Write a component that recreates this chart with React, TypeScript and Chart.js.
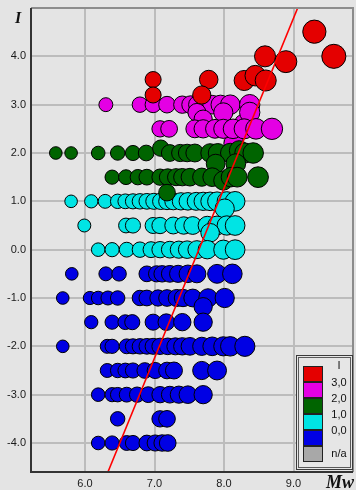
import { useEffect, useRef } from "react";
import Chart from "chart.js/auto";

// ---- axis ticks ----
const xTicks = [6, 7, 8, 9];
const yTicks = [-4, -3, -2, -1, 0, 1, 2, 3, 4];

// ---- red: I > 3 ----
const redMw = [6.98, 6.98, 7.78, 7.68, 8.29, 8.45, 8.6, 8.59, 8.89, 9.3, 9.58];
const redI = [3.52, 3.2, 3.52, 3.2, 3.5, 3.6, 3.5, 4.0, 3.89, 4.51, 4.0];

// ---- magenta: 2 < I <= 3 ----
const magentaMw = [
  8.14,
  6.3, 6.79, 6.98, 7.18, 7.4, 7.52, 7.62, 7.83, 7.95, 8.09, 8.37,
  7.61, 7.7, 7.99, 8.29, 8.37,
  7.08, 7.21, 7.58, 7.7, 7.87, 7.99, 8.13, 8.29, 8.46, 8.69,
];
const magentaI = [
  2.2,
  3.0, 3.0, 3.0, 3.0, 3.0, 3.0, 3.0, 3.0, 3.0, 3.0, 3.0,
  2.84, 2.7, 2.84, 2.6, 2.84,
  2.5, 2.5, 2.5, 2.5, 2.5, 2.5, 2.5, 2.5, 2.5, 2.5,
];

// ---- green: 1 < I <= 2 ----
const greenMw = [
  5.58, 5.8, 6.19, 6.47, 6.69, 6.88, 7.09, 7.22, 7.37, 7.47, 7.58, 7.8, 7.91, 8.09, 8.22, 8.3, 8.42,
  7.88, 8.17,
  6.39, 6.59, 6.76, 6.89, 7.08, 7.19, 7.31, 7.4, 7.51, 7.68, 7.83, 7.99, 8.1, 8.19, 8.49,
  7.18,
];
const greenI = [
  2.0, 2.0, 2.0, 2.0, 2.0, 2.0, 2.1, 2.0, 2.0, 2.0, 2.0, 2.0, 2.0, 2.0, 2.05, 2.0, 2.0,
  1.78, 1.78,
  1.5, 1.5, 1.5, 1.5, 1.5, 1.5, 1.5, 1.5, 1.5, 1.5, 1.5, 1.43, 1.5, 1.5, 1.5,
  1.18,
];

// ---- cyan: 0 <= I <= 1 ----
const cyanMw = [
  5.8, 6.09, 6.29, 6.47, 6.58, 6.69, 6.79, 6.89, 6.99, 7.09, 7.18, 7.27, 7.38, 7.48, 7.6, 7.7, 7.8, 7.9, 8.04, 8.16,
  8.01,
  5.99, 6.59, 6.69, 6.98, 7.08, 7.27, 7.42, 7.55, 7.76, 7.9, 8.04, 8.16,
  7.8,
  6.19, 6.39, 6.6, 6.79, 6.95, 7.08, 7.22, 7.35, 7.47, 7.61, 7.76, 7.99, 8.16,
];
const cyanI = [
  1.0, 1.0, 1.0, 1.0, 1.0, 1.0, 1.0, 1.0, 1.0, 1.0, 1.0, 1.0, 1.0, 1.0, 1.0, 1.0, 1.0, 1.0, 1.0, 1.0,
  0.85,
  0.5, 0.5, 0.5, 0.5, 0.5, 0.5, 0.5, 0.5, 0.5, 0.5, 0.5, 0.5,
  0.35,
  0.0, 0.0, 0.0, 0.0, 0.0, 0.0, 0.0, 0.0, 0.0, 0.0, 0.0, 0.0, 0.0,
];

// ---- blue: I < 0 ----
const blueMw = [
  5.81, 6.3, 6.49, 6.89, 7.03, 7.11, 7.22, 7.34, 7.48, 7.61, 7.9, 8.12,
  5.68, 6.07, 6.19, 6.33, 6.47, 6.79, 6.89, 7.05, 7.18, 7.32, 7.41, 7.55, 7.77, 8.01,
  7.7,
  6.09, 6.39, 6.58, 6.68, 6.98, 7.17, 7.4, 7.7,
  5.68, 6.32, 6.39, 6.6, 6.69, 6.79, 6.89, 6.98, 7.08, 7.19, 7.3, 7.4, 7.51, 7.68, 7.83, 7.99, 8.09, 8.3,
  6.32, 6.47, 6.58, 6.69, 6.86, 7.01, 7.18, 7.28, 7.68, 7.9,
  6.19, 6.39, 6.47, 6.6, 6.75, 6.91, 7.08, 7.22, 7.35, 7.48, 7.7,
  6.47, 7.08, 7.18,
  6.19, 6.39, 6.6, 6.69, 6.89, 7.01, 7.11, 7.19,
];
const blueI = [
  -0.5, -0.5, -0.5, -0.5, -0.5, -0.5, -0.5, -0.5, -0.5, -0.5, -0.5, -0.5,
  -1.0, -1.0, -1.0, -1.0, -1.0, -1.0, -1.0, -1.0, -1.0, -1.0, -1.0, -1.0, -1.0, -1.0,
  -1.18,
  -1.5, -1.5, -1.5, -1.5, -1.5, -1.5, -1.5, -1.5,
  -2.0, -2.0, -2.0, -2.0, -2.0, -2.0, -2.0, -2.0, -2.0, -2.0, -2.0, -2.0, -2.0, -2.0, -2.0, -2.0, -2.0, -2.0,
  -2.5, -2.5, -2.5, -2.5, -2.5, -2.5, -2.5, -2.5, -2.5, -2.5,
  -3.0, -3.0, -3.0, -3.0, -3.0, -3.0, -3.0, -3.0, -3.0, -3.0, -3.0,
  -3.5, -3.5, -3.5,
  -4.0, -4.0, -4.0, -4.0, -4.0, -4.0, -4.0, -4.0,
];

// ---- regression line ----
const lineMw = [6.33, 9.06];
const lineI = [-4.6, 5.0];

// ---- legend ----
const legendLabels = ["I", "3,0", "2,0", "1,0", "0,0", "n/a"];
const legendColors = ["#e40000", "#e400e4", "#006400", "#00e4e4", "#0000e4", "#a8a8a8"];

const BG = "#e4e4e4";

function radiusOf(mw: number) {
  return Math.max(6.3, 6.5 + (mw - 6) * 1.55);
}

function bubbles(mw: number[], iv: number[]) {
  return mw.map((x, k) => ({ x, y: iv[k], r: radiusOf(x) }));
}

const framePlugin = {
  id: "framePlugin",
  beforeDraw(chart: any) {
    const ctx = chart.ctx;
    ctx.save();
    ctx.fillStyle = BG;
    ctx.fillRect(0, 0, chart.width, chart.height);
    ctx.restore();
  },
  afterDraw(chart: any) {
    const ctx = chart.ctx;
    const a = chart.chartArea;
    ctx.save();
    // frame
    ctx.lineWidth = 2;
    ctx.strokeStyle = "#8c8c8c";
    ctx.beginPath();
    ctx.moveTo(a.left, a.top);
    ctx.lineTo(a.right, a.top);
    ctx.lineTo(a.right, a.bottom);
    ctx.stroke();
    ctx.strokeStyle = "#333333";
    ctx.beginPath();
    ctx.moveTo(a.left, a.top);
    ctx.lineTo(a.left, a.bottom);
    ctx.lineTo(a.right, a.bottom);
    ctx.stroke();

    // axis titles
    ctx.fillStyle = "#111111";
    ctx.textAlign = "left";
    ctx.textBaseline = "alphabetic";
    ctx.font = "bold italic 16px 'Liberation Serif', 'DejaVu Serif', serif";
    ctx.fillText("I", 15, 23);
    ctx.font = "bold italic 18px 'Liberation Serif', 'DejaVu Serif', serif";
    ctx.fillText("Mw", 326, 488);

    // legend box
    const bx = 296, by = 355, bw = 57, bh = 115;
    ctx.fillStyle = "#e6e6e6";
    ctx.fillRect(bx, by, bw, bh);
    ctx.lineWidth = 1;
    ctx.strokeStyle = "#3a3a3a";
    ctx.strokeRect(bx + 0.5, by + 0.5, bw - 1, bh - 1);
    ctx.strokeStyle = "#5a5a5a";
    ctx.strokeRect(bx + 2.5, by + 2.5, bw - 5, bh - 5);

    const sx = 303, sy = 366, sw = 20, sh = 16;
    legendColors.forEach((c, k) => {
      ctx.fillStyle = c;
      ctx.fillRect(sx, sy + k * sh, sw, sh);
      ctx.strokeStyle = "#222222";
      ctx.strokeRect(sx + 0.5, sy + k * sh + 0.5, sw - 1, sh - 1);
    });
    ctx.fillStyle = "#111111";
    ctx.font = "11px 'Liberation Sans', Arial, sans-serif";
    ctx.textAlign = "center";
    ctx.textBaseline = "middle";
    const labelY = [366, 383, 399, 415, 431, 454];
    legendLabels.forEach((t, k) => {
      ctx.fillText(t, 339, labelY[k]);
    });
    ctx.restore();
  },
};

export default function App() {
  const ref = useRef<HTMLCanvasElement | null>(null);

  useEffect(() => {
    if (!ref.current) return;
    const pointStyle = (color: string, order: number, mw: number[], iv: number[]) => ({
      type: "bubble" as const,
      data: bubbles(mw, iv),
      backgroundColor: color,
      borderColor: "#000000",
      borderWidth: 1,
      hoverBorderWidth: 1,
      order,
    });
    const chart = new Chart(ref.current, {
      type: "bubble",
      data: {
        datasets: [
          {
            type: "line",
            data: lineMw.map((x, k) => ({ x, y: lineI[k] })),
            borderColor: "#ff0000",
            borderWidth: 1.6,
            pointRadius: 0,
            fill: false,
            order: 0,
          } as any,
          pointStyle(legendColors[0], 1, redMw, redI),
          pointStyle(legendColors[2], 2, greenMw, greenI),
          pointStyle(legendColors[1], 3, magentaMw, magentaI),
          pointStyle(legendColors[3], 4, cyanMw, cyanI),
          pointStyle(legendColors[4], 5, blueMw, blueI),
        ],
      },
      options: {
        animation: false,
        responsive: false,
        events: [],
        layout: { autoPadding: false, padding: { top: 8, right: 3, left: 0, bottom: 0 } },
        plugins: {
          legend: { display: false },
          tooltip: { enabled: false },
        },
        scales: {
          x: {
            type: "linear",
            min: 5.223,
            max: 9.856,
            afterBuildTicks: (s: any) => {
              s.ticks = xTicks.map((v) => ({ value: v }));
            },
            afterFit: (s: any) => {
              s.height = 18;
              s.paddingLeft = 0;
              s.paddingRight = 0;
            },
            grid: { color: "#bcbcbc", lineWidth: 2, drawTicks: false },
            border: { display: false },
            ticks: {
              padding: 5,
              color: "#1a1a1a",
              font: { size: 11, family: "'Liberation Sans', Arial, sans-serif" },
              callback: (v: any) => Number(v).toFixed(1),
              maxRotation: 0,
            },
          },
          y: {
            type: "linear",
            min: -4.6,
            max: 5.0,
            afterBuildTicks: (s: any) => {
              s.ticks = yTicks.map((v) => ({ value: v }));
            },
            afterFit: (s: any) => {
              s.width = 31;
              s.paddingTop = 0;
              s.paddingBottom = 0;
            },
            grid: { color: "#bcbcbc", lineWidth: 2, drawTicks: false },
            border: { display: false },
            ticks: {
              padding: 5,
              color: "#1a1a1a",
              font: { size: 11, family: "'Liberation Sans', Arial, sans-serif" },
              callback: (v: any) => Number(v).toFixed(1),
            },
          },
        },
      },
      plugins: [framePlugin],
    });
    return () => chart.destroy();
  }, []);

  return (
    <div style={{ position: "fixed", left: 0, top: 0, width: 356, height: 490, background: BG }}>
      <canvas ref={ref} width={356} height={490} style={{ display: "block" }} />
    </div>
  );
}
